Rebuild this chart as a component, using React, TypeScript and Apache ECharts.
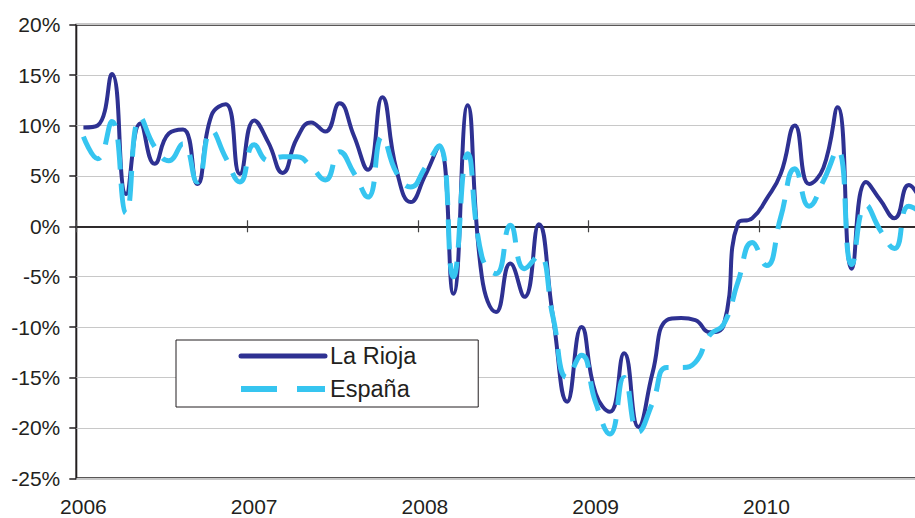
import React, { useEffect, useRef } from "react";
import * as echarts from "echarts";

// ---- data ----
const years = ["2006", "2007", "2008", "2009", "2010"];
const months = ["01", "02", "03", "04", "05", "06", "07", "08", "09", "10", "11", "12"];
const categories = years.flatMap((y) => months.map((m) => `${y}-${m}`));

const laRioja = [
  9.8, 10.0, 15.1, 3.2, 10.2, 6.2, 9.2, 9.6, 4.2, 11.0, 12.1, 5.2,
  10.5, 8.3, 5.3, 8.7, 10.3, 9.4, 12.2, 9.0, 5.6, 12.8, 5.6, 2.4,
  5.0, 7.9, -6.7, 12.0, -5.0, -8.5, -3.7, -7.0, 0.2, -9.0, -17.4, -10.0,
  -16.6, -18.4, -12.6, -19.9, -14.5, -9.3, -9.1, -9.3, -10.5, -9.8, 0.3, 0.8,
  2.7, 5.2, 10.0, 4.2, 5.8, 11.8, -4.2, 4.4, 2.6, 0.8, 4.1, 2.0,
];

const espana = [
  8.9, 6.7, 10.4, 1.3, 10.8, 7.9, 6.5, 8.2, 4.4, 9.5, 6.8, 4.4,
  8.1, 6.5, 6.9, 6.9, 5.9, 4.6, 7.4, 5.3, 2.9, 8.9, 5.3, 3.9,
  5.8, 8.0, -5.0, 7.2, -3.0, -4.7, 0.1, -4.2, -2.9, -9.0, -15.0, -12.8,
  -17.5, -20.6, -15.0, -20.4, -17.5, -14.0, -14.0, -13.5, -10.8, -9.7, -5.5, -1.6,
  -3.9, 0.9, 5.7, 2.0, 4.5, 7.6, -3.8, 2.1, -0.4, -2.2, 2.0, 1.2,
];

const yMin = -25;
const yMax = 20;
const yStep = 5;

const seriesNames = ["La Rioja", "España"];

// ---- styles ----
const FONT = '"Liberation Sans", Arial, Helvetica, sans-serif';
const INK = "#231f20";
const NAVY = "#2e3192";
const CYAN = "#36c5f0";
const NONE = "rgba(0,0,0,0)";

export default function App() {
  const ref = useRef<HTMLDivElement>(null);

  useEffect(() => {
    const chart = echarts.init(ref.current!, null, { renderer: "svg" });
    const zeroAxisBase = {
      type: "category" as const,
      data: categories,
      boundaryGap: true,
      position: "bottom" as const,
      axisLabel: { show: false },
      splitLine: { show: false },
    };
    chart.setOption({
      animation: false,
      backgroundColor: "#ffffff",
      textStyle: { fontFamily: FONT },
      grid: {
        left: 76.3,
        top: 24.7,
        width: 853.8,
        height: 453.6,
        outerBoundsMode: "none",
        containLabel: false,
        show: true,
        borderColor: INK,
        borderWidth: 2,
        backgroundColor: "transparent",
      },
      legend: {
        orient: "vertical",
        left: 176,
        top: 340,
        padding: [4, 62, 6, 62],
        itemWidth: 84,
        itemHeight: 14,
        itemGap: 9,
        borderColor: INK,
        borderWidth: 1,
        backgroundColor: "#ffffff",
        textStyle: { fontSize: 23.5, color: INK, fontFamily: FONT },
        itemStyle: { color: NONE, borderColor: NONE, borderWidth: 0 },
        data: [
          { name: seriesNames[0], lineStyle: { width: 5, cap: "round" }, itemStyle: { color: NONE, borderColor: NONE, borderWidth: 0 } },
          { name: seriesNames[1], lineStyle: { width: 6, type: [36, 20] }, itemStyle: { color: NONE, borderColor: NONE, borderWidth: 0 } },
        ],
      },
      xAxis: [
        {
          type: "category",
          data: categories,
          boundaryGap: true,
          position: "bottom",
          axisLine: { show: false, onZero: false },
          axisTick: { show: false },
          axisLabel: {
            interval: 11,
            formatter: (v: string) => v.slice(0, 4),
            fontSize: 21,
            color: INK,
            fontFamily: FONT,
            margin: 18,
          },
          splitLine: { show: false },
        },
        {
          ...zeroAxisBase,
          axisLine: { show: true, onZero: true, onZeroAxisIndex: 0, lineStyle: { color: INK, width: 1.5 } },
          axisTick: { show: true, interval: 11, length: 6, lineStyle: { color: "#444", width: 1.2 } },
        },
        {
          ...zeroAxisBase,
          axisLine: { show: true, onZero: true, onZeroAxisIndex: 0, lineStyle: { color: INK, width: 1.5 } },
          axisTick: { show: true, inside: true, interval: 11, length: 6, lineStyle: { color: "#444", width: 1.2 } },
        },
      ],
      yAxis: {
        type: "value",
        min: yMin,
        max: yMax,
        interval: yStep,
        axisLine: { show: false },
        axisTick: { show: true, length: 7, lineStyle: { color: INK, width: 1.5 } },
        axisLabel: { formatter: "{value}%", fontSize: 21, color: INK, fontFamily: FONT, margin: 16 },
        splitLine: { lineStyle: { color: "#c8c8c8", width: 1 } },
      },
      series: [
        {
          name: seriesNames[0],
          type: "line",
          data: laRioja,
          smooth: true,
          symbol: "none",
          lineStyle: { color: NAVY, width: 4 },
          itemStyle: { color: NAVY },
          z: 3,
        },
        {
          name: seriesNames[1],
          type: "line",
          data: espana,
          smooth: true,
          symbol: "none",
          lineStyle: { color: CYAN, width: 5, type: [30, 14] },
          itemStyle: { color: CYAN },
          z: 4,
        },
      ],
    });
    return () => chart.dispose();
  }, []);

  return (
    <div
      ref={ref}
      style={{ position: "fixed", left: 0, top: 0, width: 915, height: 518, background: "#fff" }}
    />
  );
}
